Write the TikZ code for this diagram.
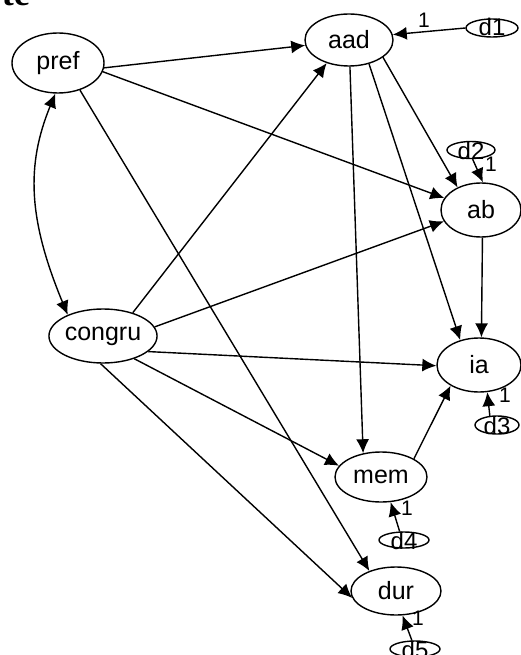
\documentclass[tikz,border=0pt]{standalone}
\usepackage{fontspec}
\setmainfont{Liberation Sans}
\newfontfamily\titlefont{Liberation Serif}
\usetikzlibrary{arrows.meta,shapes.geometric}
\begin{document}
\begin{tikzpicture}[x=1pt,y=-1pt,
  var/.style={draw, ellipse, line width=1.4pt, inner sep=0pt, font=\fontsize{25}{25}\selectfont},
  err/.style={draw, ellipse, line width=1.4pt, inner sep=0pt},
  errtxt/.style={font=\fontsize{24}{24}\selectfont, inner sep=0pt},
  arr/.style={line width=1.4pt, -{Latex[length=14pt,width=13pt]}},
  barr/.style={line width=1.4pt, {Latex[length=14pt,width=13pt]}-{Latex[length=14pt,width=13pt]}},
  one/.style={font=\fontsize{21}{21}\selectfont, inner sep=0pt}
]
\useasboundingbox (0,0) rectangle (521,655);
\node[anchor=base east, inner sep=0pt, font=\titlefont\bfseries\fontsize{36}{36}\selectfont] (title) at (30,6) {te};
% main variables
\node[var, minimum width=92pt, minimum height=60pt] (pref) at (58,63) {pref};
\node[var, minimum width=88pt, minimum height=52pt] (aad) at (349,40) {aad};
\node[var, minimum width=80pt, minimum height=54pt] (ab) at (481,210) {ab};
\node[var, minimum width=84pt, minimum height=54pt] (ia) at (479,365) {ia};
\node[var, minimum width=100pt, minimum height=54pt] (congru) at (103,336) {congru};
\node[var, minimum width=92pt, minimum height=50pt] (mem) at (381,477) {mem};
\node[var, minimum width=90pt, minimum height=48pt] (dur) at (396,591) {dur};
% error terms
\node[err, minimum width=52pt, minimum height=18pt] (d1) at (492,28) {};
\node[errtxt] at (492,27) {d1};
\node[err, minimum width=48pt, minimum height=17pt] (d2) at (471,150) {};
\node[errtxt] at (471,151) {d2};
\node[err, minimum width=44pt, minimum height=18pt] (d3) at (497,425) {};
\node[errtxt] at (497,426) {d3};
\node[err, minimum width=50pt, minimum height=16pt] (d4) at (404,540) {};
\node[errtxt] at (404,541) {d4};
\node[err, minimum width=50pt, minimum height=16pt] (d5) at (415,649) {};
\node[errtxt] at (415,650) {d5};
% paths
\draw[arr] (pref.-6) -- (aad.-173);
\draw[arr] (pref.-11) -- (ab.162);
\draw[arr] (pref.-51) -- (dur.143);
\draw[barr] (pref.-95) .. controls (26,165) and (28,219) .. (congru.149);
\draw[arr] (congru.38) -- (aad.-134);
\draw[arr] (congru.10) -- (ab.-163);
\draw[arr] (congru.-19) -- (ia.-179);
\draw[arr] (congru.-36) -- (mem.165);
\draw[arr] (congru.-95) -- (dur.-171);
\draw[arr] (aad.-88) -- (mem.127);
\draw[arr] (aad.-27) -- (ab.136);
\draw[arr] (aad.-50) -- (ia.127);
\draw[arr] (ab.-87) -- (ia.85);
\draw[arr] (mem.29) -- (ia.-144);
% error paths
\draw[arr] (d1.180) -- (aad.7);
\draw[arr] (d2.-80) -- (ab.86);
\draw[arr] (d3.128) -- (ia.-73);
\draw[arr] (d4.117) -- (mem.-69);
\draw[arr] (d5.110) -- (dur.-75);
% loadings
\node[one] (l1) at (424,20) {1};
\node[one] (l2) at (491,164) {1};
\node[one] (l3) at (505,395) {1};
\node[one] (l4) at (407,508) {1};
\node[one] (l5) at (418,618) {1};
\end{tikzpicture}
\end{document}
